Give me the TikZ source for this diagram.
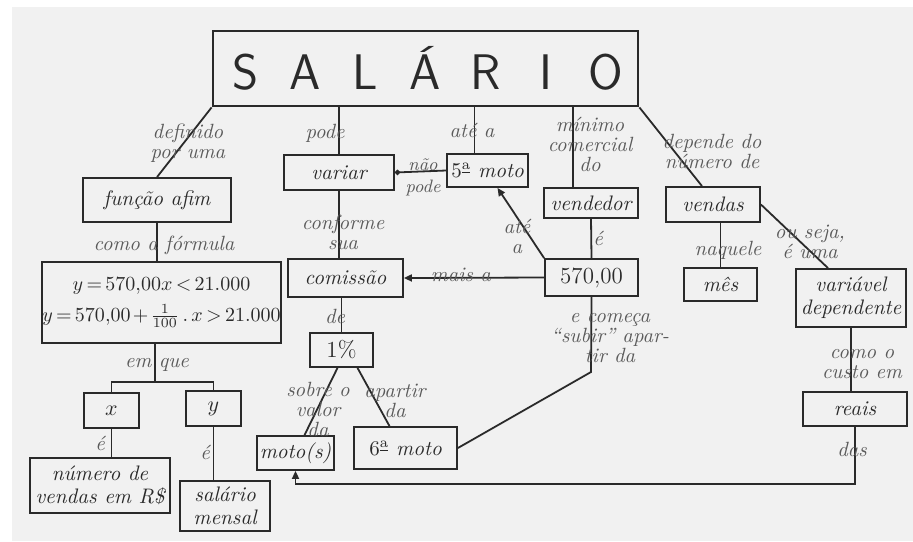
\documentclass[tikz,border=0pt]{standalone}
\usepackage{fontspec}
\usetikzlibrary{arrows.meta,calc}
\definecolor{ink}{HTML}{2A2A2A}
\definecolor{pencil}{HTML}{5A5A5A}
\definecolor{paper}{HTML}{F1F1F1}
\newcommand{\ordA}{\textsuperscript{\underline{a}}}
\begin{document}
\begin{tikzpicture}[x=0.5pt,y=-0.5pt,
  box/.style={draw=ink,line width=0.9pt,inner sep=0pt,align=center,text=ink,
    font=\fontsize{10.5}{11.5}\selectfont\itshape},
  sz/.style 2 args={minimum width=#1*0.5pt,minimum height=#2*0.5pt},
  lbl/.style={text=pencil,align=center,inner sep=0pt,
    font=\fontsize{10.3}{10}\selectfont\itshape},
  link/.style={draw=ink,line width=0.9pt},
  tip/.style={-{Triangle[length=4pt,width=3.5pt]}},
  dot/.style={-{Circle[length=2.6pt]}},
]
% sheet
\useasboundingbox (0,0) rectangle (913,541);
\fill[white] (0,0) rectangle (913,541);
\fill[paper] (12,7) rectangle (913,541);

% ---- concepts ----
\node[box,sz={425}{75},line width=1.4pt,font=\fontsize{25}{25}\selectfont\sffamily] (sal) at (425.5,68.5)
  {\raisebox{-3pt}{\makebox[30pt]{S}\makebox[30pt]{A}\makebox[30pt]{L}\makebox[30pt]{Á}\makebox[30pt]{R}\makebox[30pt]{I}\makebox[30pt]{O}}};
\node[box,sz={148}{44}] (func) at (157,200) {função afim};
\node[box,sz={233}{81},font=\fontsize{10}{10.5}\selectfont] (form) at (161.5,302.5)
  {\medmuskip=2mu\thickmuskip=3mu$y = 570{,}00x < 21.000$\\[5pt]%
   \medmuskip=2mu\thickmuskip=3mu$y = 570{,}00 + \frac{1}{100}\,.\,x > 21.000$};
\node[box,sz={55}{35}] (xb) at (111.5,410.5) {$x$};
\node[box,sz={55}{35}] (yb) at (213.5,408.5) {$y$};
\node[box,sz={140}{55}] (num) at (100,485.5) {número de\\vendas em R\$};
\node[box,sz={90}{50}] (salm) at (225,506) {salário\\mensal};
\node[box,sz={110}{35}] (var) at (339,172.5) {variar};
\node[box,sz={81}{33},font=\fontsize{10.5}{11.5}\selectfont] (moto5) at (487.5,170.5) {5\ordA{} \textit{moto}};
\node[box,sz={94}{30}] (vend) at (591,203) {vendedor};
\node[box,sz={93}{37},font=\fontsize{11.5}{12}\selectfont] (v570) at (591.5,277.5) {570,00};
\node[box,sz={115}{38}] (com) at (345.5,278) {comissão};
\node[box,sz={63}{34},font=\fontsize{11.5}{12}\selectfont] (pct) at (341.5,350) {1\%};
\node[box,sz={77}{34}] (motos) at (295.5,453) {moto(s)};
\node[box,sz={103}{42},font=\fontsize{10.5}{11.5}\selectfont] (moto6) at (405.5,448) {6\ordA{} \textit{moto}};
\node[box,sz={94}{35}] (vendas) at (713,204.5) {vendas};
\node[box,sz={73}{33}] (mes) at (720.5,284.5) {mês};
\node[box,sz={110}{58}] (vdep) at (851,298) {variável\\dependente};
\node[box,sz={104}{34}] (reais) at (855,409) {reais};

% ---- connectors ----
\coordinate (fork) at (155,382);
\coordinate (bend) at (591,372);
\coordinate (floor) at (0,484);
\draw[link] (sal.south west) -- (func.north);
\draw[link] (var.north) -- (var.north |- sal.south);
\draw[link] ([xshift=-6.5pt]moto5.north) -- ([xshift=-6.5pt]moto5.north |- sal.south);
\draw[link] ([xshift=-9pt]vend.north) -- ([xshift=-9pt]vend.north |- sal.south);
\draw[link] (sal.south east) -- ([xshift=-5.5pt]vendas.north);
\draw[link] (func.south) -- (func.south |- form.north);
\draw[link] (form.south -| fork) -- (fork);
\draw[link] (xb.north) |- (fork) -| (yb.north);
\draw[link] (xb.south) -- (xb.south |- num.north);
\draw[link] (yb.south) -- (yb.south |- salm.north);
\draw[link,dot] (moto5.west) -- (var.east);
\draw[link,tip] (v570.north west) -- ([xshift=5pt]moto5.south);
\draw[link,tip] (v570.west) -- (com.east);
\draw[link] (vend.south) -- (v570.north);
\draw[link] (var.south) -- (var.south |- com.north);
\draw[link] (pct.north) -- (pct.north |- com.south);
\draw[link] ([xshift=-2pt]pct.south) -- ([xshift=4.5pt]motos.north);
\draw[link] ([xshift=8pt]pct.south) -- ([xshift=-8pt]moto6.north);
\draw[link] (v570.south) -- (bend) -- (moto6.east);
\draw[link] (mes.north) -- (mes.north |- vendas.south);
\draw[link] (vendas.east) -- ([xshift=-11.5pt]vdep.north);
\draw[link] (vdep.south) -- (vdep.south |- reais.north);
\draw[link,tip] (reais.south) |- (floor -| motos.south) -- (motos.south);

% ---- linking words ----
\node[lbl] (t1) at (188,143) {definido\\por uma};
\node[lbl] (t2) at (325,133) {pode};
\node[lbl] (t3) at (472,130) {até a};
\node[lbl] (t4) at (590,144) {mínimo\\comercial\\do};
\node[lbl] (t5) at (712,151) {depende do\\número de};
\node[lbl,font=\fontsize{9}{9}\selectfont\itshape] (t6) at (423,165) {não};
\node[lbl,font=\fontsize{9}{9}\selectfont\itshape] (t7) at (423,188) {pode};
\node[lbl] (t8) at (164,245) {como a fórmula};
\node[lbl] (t9) at (157,365) {em que};
\node[lbl] (t10) at (100,443) {é};
\node[lbl] (t11) at (205,452) {é};
\node[lbl] (t12) at (343,232) {conforme\\sua};
\node[lbl] (t13) at (517,236) {até\\a};
\node[lbl] (t14) at (598,238) {é};
\node[lbl] (t15) at (461,275) {mais a};
\node[lbl] (t16) at (335,316) {de};
\node[lbl] (t17) at (318,409) {sobre o\\valor\\da};
\node[lbl] (t18) at (395,401) {apartir\\da};
\node[lbl] (t19) at (610,338) {e começa\\``subir'' apar-\\tir da};
\node[lbl] (t20) at (728,250) {naquele};
\node[lbl] (t21) at (810,242) {ou seja,\\é uma};
\node[lbl] (t22) at (862,364) {como o\\custo em};
\node[lbl] (t23) at (852,449) {das};
\end{tikzpicture}
\end{document}
